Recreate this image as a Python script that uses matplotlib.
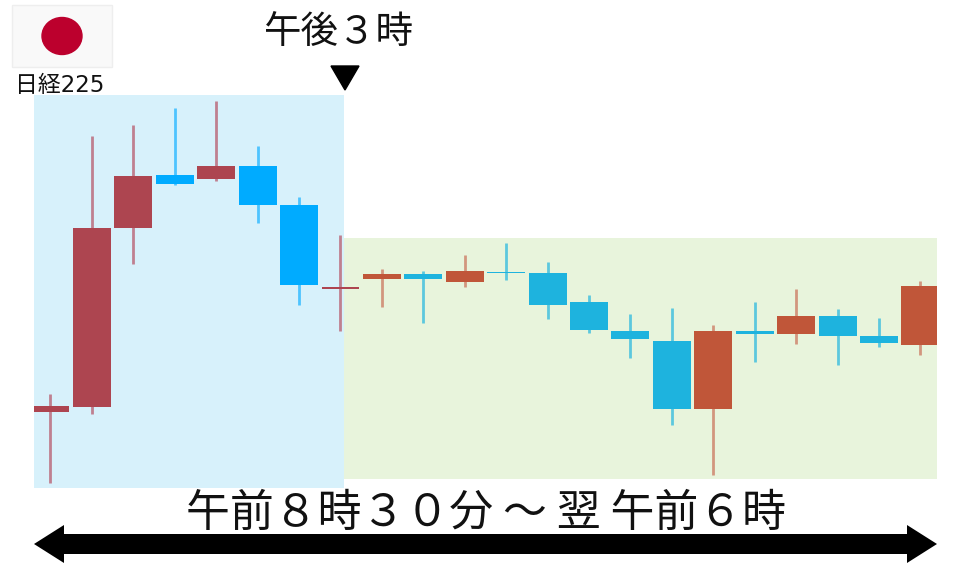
"""日経225の取引時間を示すローソク足の図。"""

import matplotlib

matplotlib.use("Agg")
import matplotlib.pyplot as plt
from matplotlib.patches import Ellipse, Polygon, Rectangle

plt.rcParams["font.family"] = ["Noto Sans CJK JP", "DejaVu Sans"]

# 値は図から読み取ったもの(上ほど高い)
BODY_TOP = [161.5, 339, 391.5, 392, 401.5, 401.5, 362, 280.5, 293, 293, 296, 295.5,
            294.5, 265, 236.5, 226.5, 236, 236.5, 251.5, 251, 231, 281.5]
BODY_BOTTOM = [155.5, 160, 339, 383, 388, 362, 282.5, 278.5, 288, 288, 285.5, 294.5,
               262.5, 237, 228, 158.5, 158.5, 233.5, 233, 231, 224, 222]
HIGHS = [173, 431.5, 442.5, 459, 466, 421, 370.5, 332, 298, 296, 312, 324.5,
         305, 272, 253, 259, 242.5, 265.5, 278, 258.5, 249, 286]
LOWS = [84.5, 153.5, 303, 382, 386.5, 344, 262.5, 236, 260, 244.5, 280, 287,
        248.5, 234, 209, 142, 92.5, 205.5, 223.5, 202, 220, 212]
# 0: 午後3時までの赤 / 1: 青 / 2: 以降の赤 / 3: 青
STYLES = [0, 0, 0, 1, 0, 1, 1, 0, 2, 3, 2, 3, 3, 3, 3, 3, 2, 3, 2, 3, 3, 2]

BODY_COLORS = ["#AD4550", "#00ABFF", "#C05639", "#1EB3DE"]
WICK_COLORS = ["#BF8090", "#4DC4FF", "#D2967E", "#5CC8DE"]


def draw_decorations(ax: plt.Axes) -> None:
    ax.set_xlim(0, 960)
    ax.set_ylim(567, 0)
    ax.axis("off")

    # 日の丸
    ax.add_patch(Rectangle((12, 5), 100, 62, facecolor="#F9F9F9", edgecolor="#EEEEEE", linewidth=1))
    ax.add_patch(Ellipse((62, 36), 40, 37, color="#BC002D"))
    ax.text(60, 85, "日経225", ha="center", va="center", fontsize=16.5, color="#111111",
            family=["DejaVu Sans", "Noto Sans CJK JP"])

    ax.text(338.5, 32, "午後３時", ha="center", va="center", fontsize=27, color="#111111")
    ax.add_patch(Polygon([(331, 66), (359, 66), (345, 90)], color="black"))

    ax.text(486.5, 513, "午前８時３０分 ～ 翌 午前６時", ha="center", va="center", fontsize=31.6, color="#111111")

    # 両矢印
    arrow = [(34, 544), (64, 525), (64, 534), (907, 534), (907, 525), (937, 544),
             (907, 563), (907, 554), (64, 554), (64, 563)]
    ax.add_patch(Polygon(arrow, color="black", linewidth=0))


def draw_candles(ax: plt.Axes) -> None:
    ax.set_xlim(-0.398, 21.4)
    ax.set_ylim(0, 567)
    ax.axis("off")

    # 背景の帯
    ax.add_patch(Rectangle((-0.398, 79), 7.48, 393, facecolor="#D7F1FB", linewidth=0))
    ax.add_patch(Rectangle((7.082, 88), 14.318, 241, facecolor="#E8F4DC", linewidth=0))

    for i, style in enumerate(STYLES):
        ax.vlines(i, LOWS[i], HIGHS[i], color=WICK_COLORS[style], linewidth=2.0, zorder=2)
        ax.bar(i, BODY_TOP[i] - BODY_BOTTOM[i], bottom=BODY_BOTTOM[i], width=0.915,
               color=BODY_COLORS[style], linewidth=0, zorder=3)


def main() -> None:
    fig = plt.figure(figsize=(9.6, 5.67), dpi=100)
    deco_ax = fig.add_axes([0, 0, 1, 1], zorder=1)
    chart_ax = fig.add_axes([34 / 960, 0, 903 / 960, 1], zorder=2)
    chart_ax.patch.set_alpha(0)

    draw_decorations(deco_ax)
    draw_candles(chart_ax)

    fig.savefig("out.png", dpi=100)


if __name__ == "__main__":
    main()
